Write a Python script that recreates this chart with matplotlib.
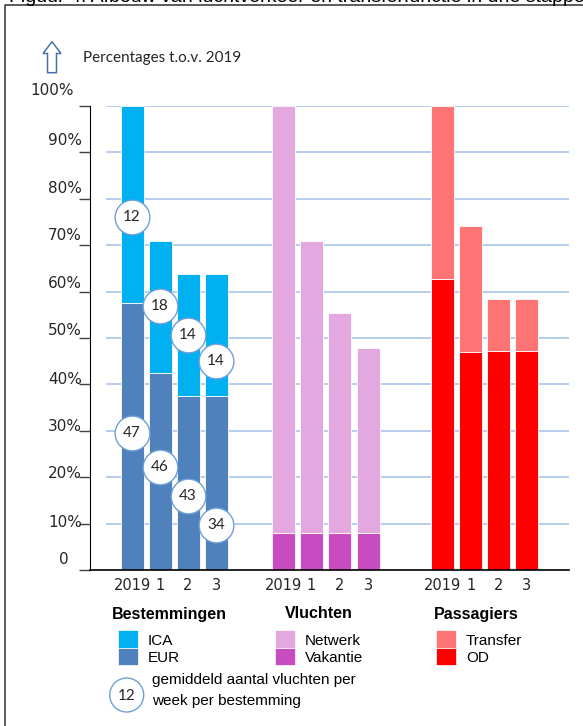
import matplotlib.pyplot as plt
from matplotlib.patches import Rectangle, Polygon, Circle
from matplotlib.transforms import ScaledTranslation

# ---------------- data (percentages t.o.v. 2019) ----------------
stages = ['2019', '1', '2', '3']
groups = ['Bestemmingen', 'Vluchten', 'Passagiers']

# Bestemmingen
eur = [57.5, 42.5, 37.5, 37.5]
ica = [42.5, 28.3, 26.2, 26.2]
# Vluchten
vakantie = [8.0, 8.0, 8.0, 8.0]
netwerk = [92.0, 62.8, 47.3, 39.9]
# Passagiers
od = [62.7, 46.9, 47.3, 47.3]
transfer = [37.3, 27.3, 11.1, 11.1]

# gemiddeld aantal vluchten per week per bestemming (bolletjes)
ica_flights = [12, 18, 14, 14]
ica_flights_y = [76.0, 57.0, 50.6, 45.0]
eur_flights = [47, 46, 43, 34]
eur_flights_y = [29.5, 22.3, 15.9, 9.7]

yticks = [0, 10, 20, 30, 40, 50, 60, 70, 80, 90, 100]
ytick_labels = ['0', '10%', '20%', '30%', '40%', '50%', '60%', '70%', '80%', '90%', '100%']

# ---------------- colours ----------------
c_ica, c_eur = '#00b0f0', '#4f81bd'
c_netw, c_vak = '#e4a8e0', '#c84bc0'
c_trans, c_od = '#ff7575', '#ff0000'
c_grid = '#a9c6ea'
c_text = '#262626'

W, H = 583, 726
fig = plt.figure(figsize=(W / 100, H / 100), dpi=100)

# overlay in pixel coordinates for frame, header and legend
ov = fig.add_axes([0, 0, 1, 1])
ov.set_xlim(0, W)
ov.set_ylim(H, 0)
ov.axis('off')

ax = fig.add_axes([90 / W, 1 - 570 / H, 479 / W, 464 / H])
ax.patch.set_alpha(0)

# bar positions (3 groups of 4)
group_start = [0, 5.4, 11.1]
xpos = [[g + i + (0.05 if (k == 1 and i == 3) else 0) for i in range(4)] for k, g in enumerate(group_start)]
bw = 0.82
ekw = dict(width=bw, edgecolor='white', linewidth=0.6, zorder=2)

ax.bar(xpos[0], eur, color=c_eur, **ekw)
ax.bar(xpos[0], ica, bottom=eur, color=c_ica, **ekw)
ax.bar(xpos[1], vakantie, color=c_vak, **ekw)
ax.bar(xpos[1], netwerk, bottom=vakantie, color=c_netw, **ekw)
ax.bar(xpos[2], od, color=c_od, **ekw)
ax.bar(xpos[2], transfer, bottom=od, color=c_trans, **ekw)

# circles with flights per week
for vals, ys in [(ica_flights, ica_flights_y), (eur_flights, eur_flights_y)]:
    for x, v, y in zip(xpos[0], vals, ys):
        ax.plot(x, y, 'o', ms=25, mfc='white', mec='#6f9fd8', mew=1.0, zorder=4, clip_on=False)
        ax.text(x, y, str(v), ha='center', va='center', fontsize=11, family='Lato',
                color=c_text, zorder=5)

xmax = 15.6
ax.set_xlim(-1.5, xmax)
ax.set_ylim(0, 100)
ax.hlines(yticks[1:], -0.94, xmax, color=c_grid, lw=1.2, zorder=0)

for s in ['top', 'right']:
    ax.spines[s].set_visible(False)
ax.spines['left'].set_color('black')
ax.spines['bottom'].set_color('black')
ax.spines['bottom'].set_linewidth(1.2)

ax.set_yticks(yticks)
ax.tick_params(axis='y', length=8, width=1, color='#404040', labelleft=False)
ax.set_xticks([x for grp in xpos for x in grp])
ax.set_xticklabels(stages * 3, fontsize=10.5, color=c_text)
ax.tick_params(axis='x', length=0, pad=6)

# y tick labels sit a bit above their ticks
lift_px = [10, 0.7, 3.5, 4.3, 5, 7.5, 8, 9.7, 10.7, 12, 16]
for y, lab, lift in zip(yticks, ytick_labels, lift_px):
    xr = -8 if y != 100 else -16
    if y == 0:
        xr = -21
    tr = ax.get_yaxis_transform() + ScaledTranslation(xr / 100, lift / 100, fig.dpi_scale_trans)
    ax.text(0, y, lab, transform=tr, ha='right', va='center', fontsize=11, color=c_text)

# ---------------- frame and header ----------------
ov.plot([5, 5, W], [H, 5, 5], color='#404040', lw=1.2)
ov.text(9, 2, 'Figuur 4: Afbouw van luchtverkeer en transferfunctie in drie stappen',
        fontsize=14, family='Liberation Sans', color='black', va='baseline')

arrow = [(52, 41.7), (61, 53.5), (56.5, 53.5), (56.5, 72.7), (47.5, 72.7), (47.5, 53.5), (43, 53.5)]
ov.add_patch(Polygon(arrow, closed=True, fc='white', ec='#4a72b0', lw=1.1))
ov.text(83, 58.3, 'Percentages t.o.v. 2019', fontsize=11, family='Lato', color=c_text, va='center')

# ---------------- legend ----------------
lg = dict(fontsize=11, family='Liberation Sans', color='black', va='center')
group_x = [169, 319, 476]
for gx, name in zip(group_x, groups):
    ov.text(gx, 614, name, ha='center', fontweight='bold', **dict(lg, fontsize=11.5))

legend_items = [
    (118, ['ICA', 'EUR'], [c_ica, c_eur]),
    (275, ['Netwerk', 'Vakantie'], [c_netw, c_vak]),
    (436, ['Transfer', 'OD'], [c_trans, c_od]),
]
for lx, names, cols in legend_items:
    for j, (nm, col) in enumerate(zip(names, cols)):
        ov.add_patch(Rectangle((lx, 630 + j * 17.5), 19.5, 17.5, fc=col, ec='white', lw=0.5))
        ov.text(lx + 30, 641 + j * 17, nm, **lg)

ov.add_patch(Circle((126.7, 695), 17, fc='white', ec='#6f9fd8', lw=1.0))
ov.text(126.7, 696, '12', ha='center', va='center', fontsize=11, family='Lato', color=c_text)
ov.text(152, 680, 'gemiddeld aantal vluchten per', **lg)
ov.text(152, 701, 'week per bestemming', **lg)

fig.savefig('out.png', dpi=100)
